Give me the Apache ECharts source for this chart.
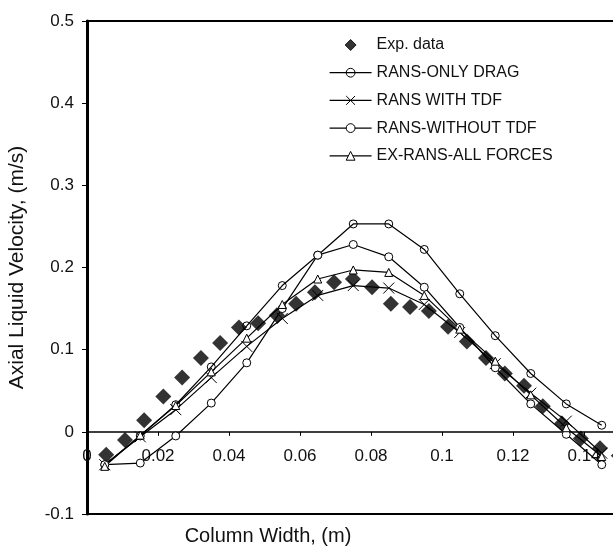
<!DOCTYPE html>
<html>
<head>
<meta charset="utf-8">
<script src="https://cdn.jsdelivr.net/npm/echarts@6/dist/echarts.min.js"></script>
<style>
html, body { margin: 0; padding: 0; background: #fff; }
#chart { width: 613px; height: 550px; }
</style>
</head>
<body>
<div id="chart"></div>
<script>
// simulation points, column width (m)
var simX = [0.005, 0.015, 0.025, 0.035, 0.045, 0.055, 0.065, 0.075, 0.085, 0.095, 0.105, 0.115, 0.125, 0.135, 0.145];
var onlyDrag   = [-0.040, -0.005, 0.033, 0.079, 0.129, 0.178, 0.215, 0.253, 0.253, 0.222, 0.168, 0.117, 0.071, 0.034, 0.008];
var withTdf    = [-0.040, -0.006, 0.027, 0.066, 0.104, 0.138, 0.166, 0.178, 0.175, 0.155, 0.121, 0.083, 0.047, 0.013, -0.026];
var withoutTdf = [-0.040, -0.038, -0.005, 0.035, 0.084, 0.150, 0.215, 0.228, 0.213, 0.176, 0.127, 0.078, 0.034, -0.003, -0.040];
var allForces  = [-0.042, -0.004, 0.032, 0.073, 0.114, 0.155, 0.186, 0.197, 0.194, 0.166, 0.125, 0.086, 0.045, 0.005, -0.030];

// measurements
var expX = [0.0054, 0.0107, 0.0161, 0.0215, 0.0268, 0.0321, 0.0375, 0.0428, 0.0482, 0.0535, 0.0589, 0.0642, 0.0696, 0.0749,
            0.0803, 0.0856, 0.0910, 0.0963, 0.1017, 0.1070, 0.1124, 0.1177, 0.1231, 0.1284, 0.1338, 0.1391, 0.1445, 0.1498];
var expY = [-0.028, -0.010, 0.014, 0.043, 0.066, 0.090, 0.108, 0.127, 0.132, 0.142, 0.156, 0.170, 0.182, 0.186,
            0.176, 0.156, 0.152, 0.147, 0.128, 0.110, 0.090, 0.071, 0.056, 0.031, 0.010, -0.008, -0.020, -0.029];

var legendNames = ['Exp. data', 'RANS-ONLY DRAG', 'RANS WITH TDF', 'RANS-WITHOUT TDF', 'EX-RANS-ALL FORCES'];

function pairs(xs, ys) {
    return xs.map(function (x, i) { return [x, ys[i]]; });
}

function simLine(name, ys, symbol, size, fill) {
    return {
        name: name,
        type: 'line',
        data: pairs(simX, ys),
        symbol: symbol,
        symbolSize: size,
        showSymbol: true,
        showAllSymbol: true,
        lineStyle: { color: '#000', width: 1.2 },
        itemStyle: { color: fill, borderColor: '#000', borderWidth: 1 },
        emphasis: { disabled: true },
        z: 3
    };
}

var chart = echarts.init(document.getElementById('chart'), null, { renderer: 'canvas' });

var font = '"Liberation Sans", Arial, sans-serif';
var gridTop = 21, gridBottom = 36;
// x axis sits on y = 0, one sixth of the plot height above the bottom border
var zeroShift = (550 - gridTop - gridBottom) / 6;

chart.setOption({
    animation: false,
    backgroundColor: '#fff',
    textStyle: { fontFamily: font, color: '#111' },
    grid: {
        left: 87, top: gridTop, bottom: gridBottom, right: -42,
        outerBoundsMode: 'none',
        containLabel: false,
        show: true, borderColor: '#000', borderWidth: 2, backgroundColor: '#fff'
    },
    legend: {
        data: legendNames,
        orient: 'vertical',
        left: 329,
        top: 37,
        padding: 0,
        itemWidth: 42,
        itemHeight: 11,
        itemGap: 11.7,
        selectedMode: false,
        textStyle: { fontFamily: font, fontSize: 16, lineHeight: 16, color: '#111' },
        lineStyle: { width: 1.2 },
        itemStyle: { borderWidth: 1 }
    },
    xAxis: {
        type: 'value',
        min: 0, max: 0.16, interval: 0.02,
        offset: -zeroShift,
        name: 'Column Width, (m)',
        nameLocation: 'middle',
        nameGap: 95,
        nameTextStyle: { fontFamily: font, fontSize: 20, color: '#111', padding: [0, 206, 0, 0] },
        axisLine: { onZero: false, lineStyle: { color: '#000', width: 1.5 } },
        axisTick: { show: true, length: 4, lineStyle: { color: '#000' } },
        axisLabel: { fontSize: 17, margin: 16, color: '#111', showMinLabel: true },
        splitLine: { show: false }
    },
    yAxis: {
        type: 'value',
        min: -0.1, max: 0.5, interval: 0.1,
        name: 'Axial Liquid Velocity, (m/s)',
        nameLocation: 'middle',
        nameGap: 59,
        nameTextStyle: { fontFamily: font, fontSize: 21, color: '#111' },
        axisLine: { show: true, onZero: false, lineStyle: { color: '#000', width: 3 } },
        axisTick: { show: true, length: 5, lineStyle: { color: '#000' } },
        axisLabel: { fontSize: 17, margin: 13, color: '#111' },
        splitLine: { show: false }
    },
    series: [
        {
            name: 'Exp. data',
            type: 'scatter',
            data: pairs(expX, expY),
            symbol: 'path://M0,-1L1,0L0,1L-1,0Z',
            symbolSize: 16,
            itemStyle: { color: '#000', borderColor: '#000', borderWidth: 0 },
            emphasis: { disabled: true },
            z: 2
        },
        simLine('RANS-ONLY DRAG', onlyDrag, 'circle', 8, 'rgba(255,255,255,0)'),
        simLine('RANS WITH TDF', withTdf, 'path://M0,0L10,10M10,0L0,10', 11, 'rgba(255,255,255,0)'),
        simLine('RANS-WITHOUT TDF', withoutTdf, 'circle', 8, '#fff'),
        simLine('EX-RANS-ALL FORCES', allForces, 'triangle', 8, '#fff')
    ]
});
</script>
</body>
</html>
